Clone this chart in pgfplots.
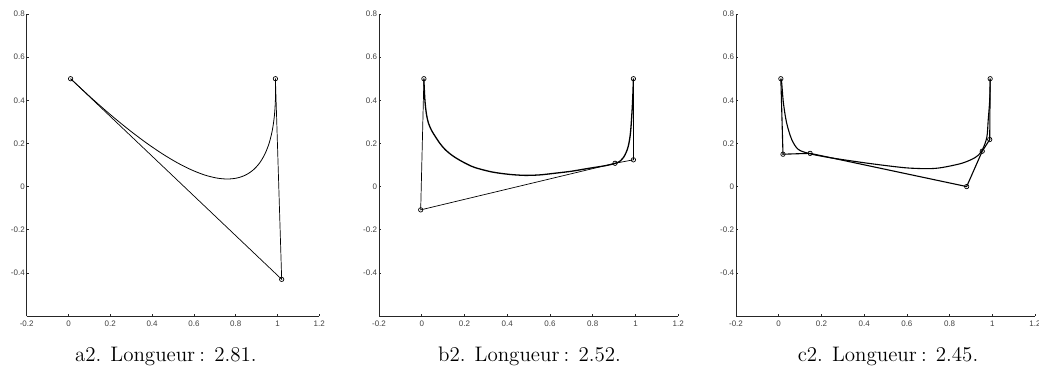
\documentclass[border=0pt]{standalone}
\usepackage{pgfplots}
\pgfplotsset{compat=1.18}
\usepackage{fontspec}
\newfontfamily\labfont{Liberation Sans}
\newfontface\capfont{lmroman12-regular.otf}
\pgfplotsset{
  mystyle/.style={
    scale only axis, height=302pt,
    xmin=-0.2, xmax=1.2, ymin=-0.6, ymax=0.8,
    axis x line*=bottom, axis y line*=left,
    xtick={-0.2,0,0.2,0.4,0.6,0.8,1,1.2},
    ytick={-0.4,-0.2,0,0.2,0.4,0.6,0.8},
    tick align=inside, major tick length=2pt,
    ticklabel style={font=\labfont\fontsize{8}{9}\selectfont, text=black!75},
    yticklabel style={inner sep=1.8pt},
    xticklabel style={yshift=-1pt},
    /pgf/number format/assume math mode=true,
    axis line style={line width=0.8pt, black!85},
    tick style={line width=0.6pt, black!85},
    clip=false,
  },
  poly/.style={black, line width=0.7pt, mark=o, mark size=2.2pt, mark options={line width=0.7pt}},
  curve/.style={black, line width=0.8pt, no markers, smooth},
}
\begin{document}
\begin{tikzpicture}
\useasboundingbox (0,0) rectangle (1039pt,375pt);
% ---------- a2 ----------
\begin{axis}[mystyle, width=292.6pt, at={(26.7pt,59pt)}, anchor=south west]
\addplot[curve] coordinates {
(0.010,0.500) (0.1084,0.4117) (0.2016,0.3326) (0.2896,0.2629) (0.3724,0.2024)
(0.450,0.1513) (0.5224,0.1094) (0.5896,0.0769) (0.6516,0.0536) (0.7084,0.0397)
(0.760,0.035) (0.8064,0.0397) (0.8476,0.0536) (0.8836,0.0769) (0.9144,0.1094)
(0.940,0.1513) (0.9604,0.2024) (0.9756,0.2629) (0.9856,0.3326) (0.9904,0.4117)
(0.990,0.500)};
\addplot[poly] coordinates {(0.01,0.5) (1.02,-0.43) (0.99,0.5)};
\end{axis}
% ---------- b2 ----------
\begin{axis}[mystyle, width=299.3pt, at={(379pt,59pt)}, anchor=south west]
\addplot[curve, line width=1.3pt] coordinates {
(0.010,0.500) (0.011,0.470) (0.013,0.430) (0.016,0.385) (0.022,0.335)
(0.031,0.295) (0.045,0.262) (0.062,0.234) (0.085,0.200)
(0.109,0.172) (0.140,0.146) (0.171,0.126) (0.210,0.105) (0.249,0.088) (0.327,0.068) (0.405,0.057)
(0.480,0.052) (0.550,0.054) (0.616,0.061) (0.700,0.071) (0.772,0.083)
(0.865,0.098) (0.912,0.110) (0.930,0.120) (0.943,0.134) (0.956,0.158) (0.966,0.187)
(0.974,0.230) (0.979,0.280) (0.985,0.372) (0.988,0.440) (0.990,0.500)};
\addplot[poly] coordinates {(0.01,0.5) (-0.005,-0.108) (0.904,0.108) (0.99,0.124) (0.99,0.5)};
\end{axis}
% ---------- c2 ----------
\begin{axis}[mystyle, width=299pt, at={(736pt,59pt)}, anchor=south west]
\addplot[curve, line width=1.1pt] coordinates {
(0.010,0.500) (0.014,0.480) (0.022,0.388) (0.037,0.295) (0.061,0.218)
(0.092,0.172) (0.147,0.152) (0.240,0.134) (0.396,0.111) (0.521,0.095)
(0.607,0.086) (0.700,0.083) (0.763,0.088) (0.857,0.108) (0.919,0.134)
(0.950,0.164) (0.974,0.226) (0.981,0.310) (0.988,0.403) (0.990,0.500)};
\addplot[poly, line width=1.1pt] coordinates {(0.01,0.5) (0.02,0.15) (0.147,0.154) (0.88,0.0) (0.953,0.164) (0.988,0.218) (0.99,0.5)};
\end{axis}
% captions
\node[anchor=base, font=\capfont\fontsize{21}{25}\selectfont] at (165.8pt,13pt) {a2. Longueur\hspace{0.2em}: 2.81.};
\node[anchor=base, font=\capfont\fontsize{21}{25}\selectfont] at (529.5pt,13pt) {b2. Longueur\hspace{0.2em}: 2.52.};
\node[anchor=base, font=\capfont\fontsize{21}{25}\selectfont] at (888pt,13pt) {c2. Longueur\hspace{0.2em}: 2.45.};
\end{tikzpicture}
\end{document}
